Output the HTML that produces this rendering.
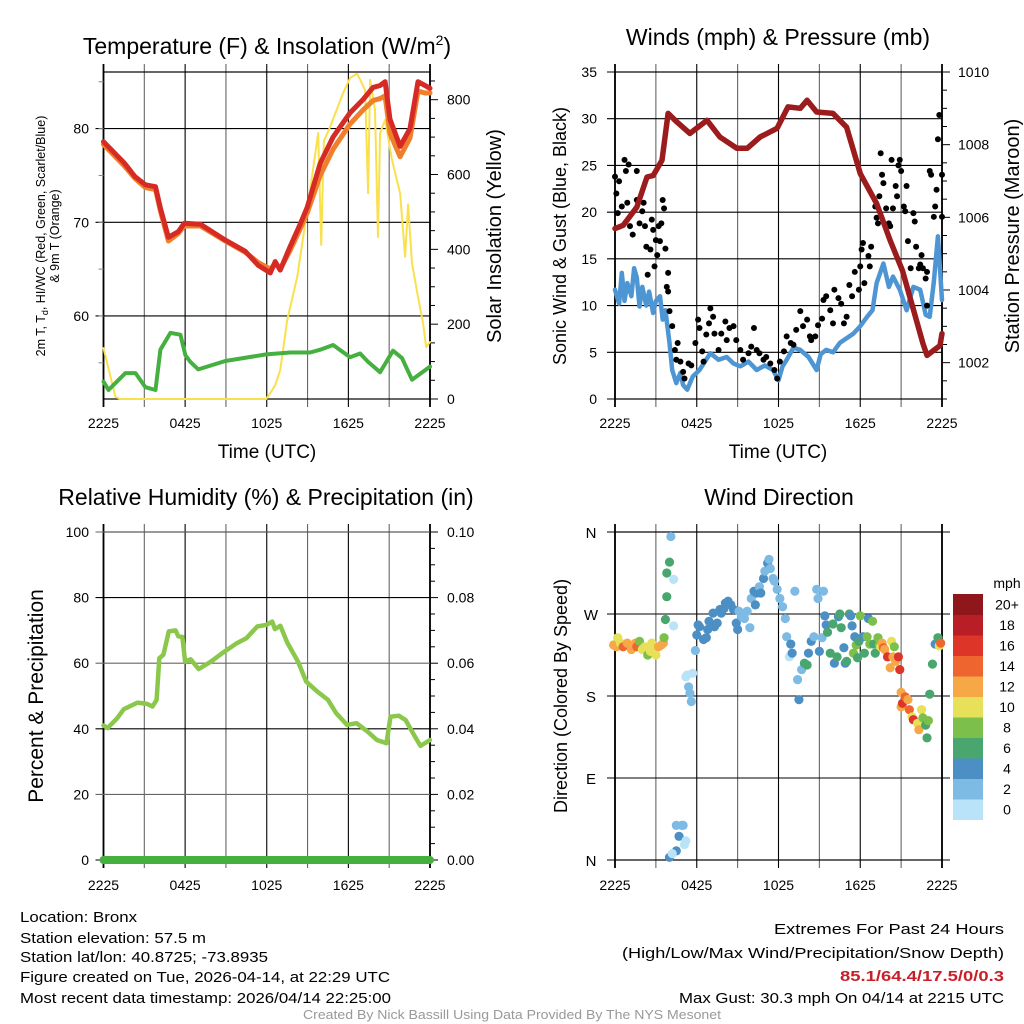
<!DOCTYPE html>
<html><head><meta charset="utf-8"><title>Mesonet Station Meteogram</title>
<style>
html,body{margin:0;padding:0;background:#fff;}
svg{display:block;font-family:"Liberation Sans",Arial,sans-serif;}
</style></head>
<body>
<svg id="chart" width="1024" height="1024" viewBox="0 0 1024 1024" xmlns="http://www.w3.org/2000/svg">
<rect x="0" y="0" width="1024" height="1024" fill="#fff"/>
<g id="layer"></g>
<!-- titles -->
<text x="267" y="54" font-size="23" text-anchor="middle">Temperature (F) &amp; Insolation (W/m<tspan font-size="14" dy="-9">2</tspan><tspan dy="9">)</tspan></text>
<text x="778" y="45" font-size="23" text-anchor="middle">Winds (mph) &amp; Pressure (mb)</text>
<text x="266" y="505" font-size="23" text-anchor="middle">Relative Humidity (%) &amp; Precipitation (in)</text>
<text x="779" y="505" font-size="23" text-anchor="middle">Wind Direction</text>
<!-- axis titles -->
<text transform="translate(45,236) rotate(-90)" font-size="12.5" text-anchor="middle">2m T, T<tspan font-size="9" dy="3">d</tspan><tspan dy="-3">, HI/WC (Red, Green, Scarlet/Blue)</tspan></text>
<text transform="translate(59,236) rotate(-90)" font-size="12.5" text-anchor="middle">&amp; 9m T (Orange)</text>
<text transform="translate(501,236) rotate(-90)" font-size="20" text-anchor="middle">Solar Insolation (Yellow)</text>
<text transform="translate(566,236) rotate(-90)" font-size="18" text-anchor="middle">Sonic Wind &amp; Gust (Blue, Black)</text>
<text transform="translate(1019,236) rotate(-90)" font-size="20" text-anchor="middle">Station Pressure (Maroon)</text>
<text transform="translate(43,696) rotate(-90)" font-size="21" text-anchor="middle">Percent &amp; Precipitation</text>
<text transform="translate(567,696) rotate(-90)" font-size="18" text-anchor="middle">Direction (Colored By Speed)</text>
<text x="267" y="458" font-size="19" text-anchor="middle">Time (UTC)</text>
<text x="778" y="458" font-size="19" text-anchor="middle">Time (UTC)</text>
<!-- footer -->
<g font-size="15" fill="#000">
<text x="20" y="922" textLength="117" lengthAdjust="spacingAndGlyphs">Location: Bronx</text>
<text x="20" y="943" textLength="186" lengthAdjust="spacingAndGlyphs">Station elevation: 57.5 m</text>
<text x="20" y="962" textLength="248" lengthAdjust="spacingAndGlyphs">Station lat/lon: 40.8725; -73.8935</text>
<text x="20" y="982" textLength="370" lengthAdjust="spacingAndGlyphs">Figure created on Tue, 2026-04-14, at 22:29 UTC</text>
<text x="20" y="1003" textLength="371" lengthAdjust="spacingAndGlyphs">Most recent data timestamp: 2026/04/14 22:25:00</text>
</g>
<g font-size="15" fill="#000">
<text x="774" y="934" textLength="230" lengthAdjust="spacingAndGlyphs">Extremes For Past 24 Hours</text>
<text x="622" y="958" textLength="382" lengthAdjust="spacingAndGlyphs">(High/Low/Max Wind/Precipitation/Snow Depth)</text>
<text x="840" y="981" textLength="164" lengthAdjust="spacingAndGlyphs" fill="#c8202a" font-weight="bold">85.1/64.4/17.5/0/0.3</text>
<text x="679" y="1003" textLength="325" lengthAdjust="spacingAndGlyphs">Max Gust: 30.3 mph On 04/14 at 2215 UTC</text>
</g>
<text x="303" y="1019" font-size="12.5" fill="#999" textLength="418" lengthAdjust="spacingAndGlyphs">Created By Nick Bassill Using Data Provided By The NYS Mesonet</text>
</svg>
<script>
// ---------- DATA ----------
const xTickLabels = ["2225","0425","1025","1625","2225"];
// Panel 1: temperature
const tempTime = [0,1.54,2.3,3.08,3.82,4.18,4.77,5.5,5.94,7.12,8.95,10.42,11.38,12.26,12.62,12.99,13.72,14.46,14.97,15.93,16.88,18.13,19.08,19.82,20.33,20.7,21.06,21.8,22.53,23.12,23.63,24];
const temp2m = [78.6,76.3,74.9,74.0,73.8,71.5,68.4,69.0,69.9,69.8,68.1,66.9,65.4,64.6,65.8,64.9,67.4,69.8,71.6,76.3,79.1,81.7,83.1,84.4,84.6,85.0,81.0,78.1,80.0,85.0,84.6,84.3];
const temp9m = [78.3,76.0,74.7,73.7,73.5,71.2,68.0,68.8,69.6,69.6,68.0,66.8,65.7,65.0,65.6,65.0,67.0,69.3,71.0,75.0,77.8,80.5,82.0,83.0,83.2,83.5,79.5,77.0,79.0,84.0,83.8,83.8];
const dewTime = [0,0.37,1.61,2.35,3.08,3.82,4.18,4.92,5.65,6.02,6.39,6.97,8.95,11.96,13.72,15.19,15.93,16.88,18.13,18.86,19.45,20.33,21.28,21.94,22.68,24];
const dewpoint = [53.0,52.1,53.9,53.9,52.4,52.1,56.4,58.2,58.0,55.8,55.1,54.3,55.2,55.9,56.1,56.1,56.4,56.9,55.6,56.0,55.1,54.0,56.3,55.5,53.2,54.6];
const solTime = [0,0.88,1.25,11.96,12.26,12.62,12.99,13.5,14.24,14.97,15.78,16.0,16.2,16.66,17.61,18.13,18.64,19.23,19.45,19.6,19.96,20.18,20.33,20.7,21.21,21.8,22.17,22.39,22.68,23.12,23.49,23.71,24];
const solar = [136,5,0,0,16,37,77,211,326,505,711,412,690,727,818,858,870,826,550,853,773,433,711,746,639,550,380,520,363,273,203,139,152];
const tempTicks = [60,70,80];
const solarTicks = [0,200,400,600,800];
// Panel 2: wind & pressure
const windTime = [0,0.3,0.5,0.7,0.9,1.2,1.4,1.6,1.8,2.0,2.3,2.5,2.8,3.0,3.3,3.5,3.7,4.0,4.2,4.5,4.8,5.0,5.3,5.7,6.2,6.6,7.0,7.6,8.2,8.7,9.2,9.8,10.4,11.0,11.6,12.0,12.3,12.6,13.1,13.6,14.2,14.8,15.1,15.5,16.0,16.5,17.0,17.5,18.0,18.5,18.9,19.2,19.7,20.1,20.4,20.9,21.4,21.9,22.4,22.8,23.1,23.4,23.7,24];
const windSpeed = [11.7,10.2,13.5,10.5,12.4,11.0,14.0,13.0,9.9,12.0,10.0,11.5,9.2,10.5,11.0,8.5,9.5,6.0,3.1,1.7,2.8,1.5,1.0,2.4,3.1,4.0,4.9,4.2,4.5,3.8,3.5,4.0,3.1,3.6,3.1,2.0,3.5,4.2,5.5,5.25,4.5,3.1,4.8,5.25,5.0,6.0,6.5,7.0,7.8,8.8,9.5,12.4,14.5,12.0,13.1,11.7,9.5,12.0,11.7,9.0,8.8,12.5,17.4,10.6];
const gustTime = [0.0,0.1,0.2,0.3,0.5,0.7,0.8,1.0,0.9,1.1,1.3,1.6,1.6,1.8,2.0,2.1,2.2,2.3,2.4,2.6,2.7,2.8,2.9,3.0,3.1,3.2,3.3,3.4,3.5,3.6,3.7,3.8,3.9,3.9,4.0,4.2,4.4,4.5,4.6,4.8,5.0,5.1,5.4,5.6,5.9,6.1,6.2,6.4,6.5,6.7,6.9,7.0,7.2,7.3,7.6,7.8,8.1,8.2,8.4,8.7,8.9,9.2,9.4,9.8,10.0,10.2,10.4,10.6,10.9,11.1,11.4,11.7,11.9,12.1,12.4,12.6,12.9,13.1,13.3,13.6,13.8,14.1,14.3,14.4,14.7,14.9,15.2,15.3,15.5,15.8,16.0,16.1,16.4,16.6,16.8,17.0,17.2,17.4,17.6,17.9,18.0,18.1,18.2,18.3,18.6,18.7,18.8,19.1,19.2,19.3,19.4,19.5,19.6,19.7,19.9,20.1,20.2,20.3,20.4,20.6,20.7,20.8,20.9,21.0,21.2,21.3,21.4,21.5,21.7,21.9,22.0,22.1,22.3,22.4,22.5,22.6,22.8,22.9,22.9,23.1,23.2,23.4,23.5,23.6,23.7,23.8,24.0,24.0];
const gustSpeed = [23.8,22,19.9,23.3,20.6,25.6,24.4,25.1,21,18.5,17.6,24.4,21.3,18.8,20.1,21,18.5,16.3,13.3,16,19.2,18.1,14.2,17,15.4,18.5,16.9,18.8,21.3,20.4,16.1,12,11.5,13.5,9.4,7.8,5.25,4.2,6,4,2.9,2.2,3.8,3.6,6,8.5,7.6,5.1,4,6.9,8.1,9.7,8.8,7,5.25,7,8.3,6.3,7.6,7.8,6.3,5.25,4.2,4.9,5.6,7.6,5.25,4.9,4.2,4.5,3.8,3.1,2.2,4,5.1,6.7,6,5.8,7.4,9.4,7.8,8.5,6.7,6.3,6.7,7.9,8.6,10.6,11,9.5,8.1,11.7,10.8,10.2,8.1,8.8,12.2,11,13.6,11.7,14.2,16,16.7,12.4,15.3,14.2,16.3,20.6,19.4,18.8,21.7,26.3,24,23.1,20.4,18.8,18.5,25.6,20.4,22.8,21.7,25,25.6,24.4,20.6,20.1,22.8,16.9,14,19.9,19,16.3,14,14.4,15.4,14,12.9,13.6,10,24.4,24,19.5,20.6,22.4,27.8,30.4,24,19.5];
const presTime = [0,0.6,1.6,2.35,2.8,3.45,3.9,4.55,5.5,6.75,7.7,8.95,9.7,10.65,11.9,12.7,13.6,14.1,14.8,16.0,17.0,18.0,19.2,20.2,21.1,22.6,22.9,23.85,24];
const pressure = [1005.69,1005.78,1006.28,1007.11,1007.15,1007.57,1008.86,1008.62,1008.31,1008.67,1008.21,1007.9,1007.9,1008.21,1008.45,1009.04,1009.0,1009.22,1008.9,1008.86,1008.48,1007.2,1006.38,1005.36,1004.53,1002.53,1002.2,1002.47,1002.8];
const windTicks = [0,5,10,15,20,25,30,35];
const presTicks = [1002,1004,1006,1008,1010];
// Panel 3: RH & precip
const rhTime = [0,0.3,1.0,1.5,2.5,3.2,3.6,3.9,4.1,4.4,4.8,5.3,5.5,5.8,6.0,6.4,7.0,7.9,8.7,9.8,10.5,11.3,12.0,12.4,12.6,13.0,13.5,14.3,14.9,15.7,16.5,17.1,17.9,18.6,19.4,20.1,20.8,21.1,21.7,22.2,22.9,23.3,24];
const rh = [41,40.2,43.2,46,48,47.6,46.8,48.8,61.5,62.6,69.7,70,68.2,68,60.5,61.2,58.2,60.5,63,66.1,67.6,71.2,71.7,72.7,70.4,71.4,66.3,60.5,54.4,51.4,48.8,44.8,41.2,41.7,39.2,36.6,35.6,43.7,44,42.7,37.6,34.8,36.6];
const precipTime = [0,2,4,6,8,10,12,14,16,18,20,22,24];
const precip = [0,0,0,0,0,0,0,0,0,0,0,0,0];
const rhTicks = [0,20,40,60,80,100];
const precipTicks = ["0.00","0.02","0.04","0.06","0.08","0.10"];
// Panel 4: wind direction
const dirTime = [-0.1,0.1,0.2,0.4,0.6,0.9,1.2,1.5,1.6,1.8,2.0,2.2,2.4,2.6,2.7,2.8,3.0,3.2,3.4,3.55,3.6,3.7,3.8,3.8,4.0,4.1,4.3,4.3,4.5,4.0,4.2,4.5,4.7,4.9,5.0,5.1,5.2,5.2,5.3,5.4,5.5,5.6,5.7,5.9,6.0,6.1,6.2,6.5,6.7,6.8,6.9,7.2,7.3,7.5,7.7,7.8,8.0,8.1,8.3,8.5,8.7,8.9,9.0,9.1,9.3,9.5,9.7,9.9,10.0,10.2,10.3,10.4,10.6,10.7,10.9,11.0,11.2,11.3,11.4,11.6,11.7,11.9,12.1,12.3,12.5,12.6,12.8,12.9,13.0,13.2,13.4,13.5,13.7,13.9,14.1,14.2,14.4,14.6,14.8,14.9,15.0,15.2,15.3,15.4,15.5,15.6,15.8,16.0,16.1,16.3,16.4,16.5,16.6,16.8,16.9,17.0,17.2,17.3,17.4,17.5,17.6,17.7,17.8,17.9,18.0,18.2,18.3,18.5,18.6,18.7,18.9,19.0,19.1,19.3,19.4,19.5,19.6,19.7,19.8,20.0,20.2,20.3,20.4,20.5,20.6,20.8,20.9,21.0,21.0,21.1,21.3,21.5,21.6,21.8,21.9,22.2,22.3,22.5,22.6,22.8,22.9,23.0,23.1,23.3,23.5,23.7,23.8,23.9];
const dirDeg = [236,234,244,238,234,238,231,238,234,240,231,234,225,229,238,231,225,234,236,238,244,264,289,315,327,355,308,257,10,3,7,38,26,38,38,17,21,201,203,190,183,174,205,230,247,258,256,242,244,253,262,271,256,260,275,271,276,282,284,280,275,260,253,273,267,265,273,255,287,295,280,293,300,293,309,317,326,330,320,309,306,297,287,278,265,245,223,237,227,295,198,176,209,216,214,227,240,245,297,287,229,244,295,268,258,250,227,259,216,223,267,270,255,233,216,218,270,268,257,227,245,236,222,240,268,245,227,245,265,237,262,237,227,244,236,234,238,233,231,223,211,240,223,234,218,223,209,184,168,172,179,176,165,157,154,150,143,165,156,148,134,153,182,215,237,244,235,238];
const dirSpeed = [13,12,10,11,14,12,13,12,14,8,10,11,8,10,11,10,10,12,12,13,8,6,6,6,6,2,0,0,4,4,0,2,4,2,2,0,0,0,0,2,2,2,0,2,4,4,4,4,4,4,4,4,4,4,4,4,4,4,4,4,4,4,4,2,2,2,2,2,2,4,4,4,2,4,4,2,4,2,2,2,2,2,2,2,2,2,0,4,4,2,2,4,2,6,6,4,4,2,2,2,4,2,2,4,4,6,6,6,4,6,4,6,6,4,4,6,6,4,4,8,4,8,6,6,8,4,6,8,4,8,8,6,6,8,8,10,12,14,12,16,12,10,12,8,12,16,16,12,12,16,14,12,14,10,16,10,12,10,8,6,6,8,6,6,4,6,10,14,10,20,14,12,8];
const dirTicks = ["N","E","S","W","N"];
const speedBins = ["0","2","4","6","8","10","12","14","16","18","20+"];
const speedColors = ["#b9e3f8","#7ebbe4","#4b8fc5","#4aa66f","#7cbf4b","#e6e159","#f6a847","#ef6530","#dd3528","#b91d26","#8f161a"];

// ---------- RENDER ----------
const NS = "http://www.w3.org/2000/svg";
const layer = document.getElementById('layer');
function mk(tag, parent){ const e = document.createElementNS(NS, tag); parent.appendChild(e); return e; }

const X0L = 103.5, X1L = 430, X0R = 615, X1R = 942;
function xs(x0,x1){ return h => x0 + (x1-x0)*h/24; }
function ys(y0,y1,v0,v1){ return v => y0 - (y0-y1)*(v-v0)/(v1-v0); }

const xL = xs(X0L,X1L), xR = xs(X0R,X1R);
const yTemp = ys(399,72,51.14,86.04);
const ySol = ys(399,72,0,874);
const yWind = ys(399,72,0,35);
const yPres = ys(399,72,1001,1010);
const yRH = ys(860,532,0,100);
const yPre = ys(860,532,0,0.1);
const yDir = ys(860,532,0,360);

function frame(x0,x1,y0,y1,name){
  const g = mk('g', layer);
  
  
  // vertical grid (every 3h) with ticks beyond
  for(let i=0;i<=8;i++){
    const x = x0 + (x1-x0)*i/8;
    const l = mk('line', g);
    
    
    l.setAttribute('x1',x); l.setAttribute('x2',x); l.setAttribute('y1',y1-8); l.setAttribute('y2',y0+8);
    l.setAttribute('stroke', i%2===0 ? '#000' : '#666'); l.setAttribute('stroke-width', i===0||i===8?1.8:1.1);
  }
  const r = mk('rect', g);
  
  
  r.setAttribute('x',x0); r.setAttribute('y',y1); r.setAttribute('width',x1-x0); r.setAttribute('height',y0-y1);
  r.setAttribute('fill','none'); r.setAttribute('stroke','#000'); r.setAttribute('stroke-width','1.2');
  return g;
}
function hgrid(g,x0,x1,y,color){
  const l = mk('line', g);
  
  
  l.setAttribute('x1',x0-8); l.setAttribute('x2',x1); l.setAttribute('y1',y); l.setAttribute('y2',y);
  l.setAttribute('stroke',color||'#000'); l.setAttribute('stroke-width','1.1');
}
function rtick(g,x,y,len){
  const l = mk('line', g);
  
  
  l.setAttribute('x1',x); l.setAttribute('x2',x+len); l.setAttribute('y1',y); l.setAttribute('y2',y);
  l.setAttribute('stroke','#000'); l.setAttribute('stroke-width','1');
}
function label(g,x,y,txt,anchor,size){
  const t = mk('text', g);
  
  
  t.setAttribute('x',x); t.setAttribute('y',y); t.setAttribute('font-size',size||14);
  t.setAttribute('text-anchor',anchor); t.textContent = txt;
}
function xlabels(g,x0,x1,y){
  xTickLabels.forEach((s,i)=>{ label(g, x0+(x1-x0)*i/4, y, s, 'middle', 14); });
}
function line(g,ts,vs,xf,yf,color,w,name){
  const p = mk('polyline', g);
  
  
  p.setAttribute('points', ts.map((t,i)=>xf(t).toFixed(1)+','+yf(vs[i]).toFixed(1)).join(' '));
  p.setAttribute('fill','none'); p.setAttribute('stroke',color); p.setAttribute('stroke-width',w);
  p.setAttribute('stroke-linejoin','round'); p.setAttribute('stroke-linecap','round');
}

// Panel 1
const g1 = frame(X0L,X1L,399,72,'temperature-panel');
tempTicks.forEach(v=>{ hgrid(g1,X0L,X1L,yTemp(v)); label(g1,89,yTemp(v)+5,String(v),'end',14); });
for(let v=55; v<=85; v+=5){ const l=mk('line',g1);   l.setAttribute('x1',X0L-5); l.setAttribute('x2',X0L); l.setAttribute('y1',yTemp(v)); l.setAttribute('y2',yTemp(v)); l.setAttribute('stroke','#888'); }
for(let v=0; v<=850; v+=50){ rtick(g1,X1L,ySol(v), v%200===0?8:5); }
solarTicks.forEach(v=>label(g1,447,ySol(v)+5,String(v),'start',14));
xlabels(g1,X0L,X1L,428);
line(g1,solTime,solar,xL,ySol,'#f9e04d',2,'solar-insolation-line');
line(g1,dewTime,dewpoint,xL,yTemp,'#45b040',4,'dewpoint-line');
line(g1,tempTime,temp9m,xL,yTemp,'#f07f2b',5,'temp-9m-line');
line(g1,tempTime,temp2m,xL,yTemp,'#d62a24',5,'temp-2m-line');

// Panel 2
const g2 = frame(X0R,X1R,399,72,'wind-panel');
windTicks.forEach(v=>{ hgrid(g2,X0R,X1R,yWind(v)); label(g2,597,yWind(v)+5,String(v),'end',14); });
for(let v=1001; v<=1010; v+=0.5){ rtick(g2,X1R,yPres(v), Number.isInteger(v)&&v%2===0?8:5); }
presTicks.forEach(v=>label(g2,958,yPres(v)+5,String(v),'start',14));
xlabels(g2,X0R,X1R,428);
line(g2,windTime,windSpeed,xR,yWind,'#4e96d3',4.5,'wind-speed-line');
gustTime.forEach((t,i)=>{
  const c = mk('circle', g2);
  
  
  c.setAttribute('cx',xR(t)); c.setAttribute('cy',yWind(gustSpeed[i])); c.setAttribute('r',3); c.setAttribute('fill','#000');
});
line(g2,presTime,pressure,xR,yPres,'#9c1b1c',5.5,'pressure-line');

// Panel 3
const g3 = frame(X0L,X1L,860,532,'humidity-panel');
rhTicks.forEach((v,i)=>{ hgrid(g3,X0L,X1L,yRH(v), i%2===0?'#000':'#666'); label(g3,89,yRH(v)+5,String(v),'end',14); label(g3,447,yRH(v)+5,precipTicks[i],'start',14); });
for(let v=0; v<=100; v+=5){ rtick(g3,X1L,yRH(v), v%20===0?8:5); }
xlabels(g3,X0L,X1L,890);
line(g3,rhTime,rh,xL,yRH,'#8bc74b',4.5,'rh-line');
line(g3,precipTime,precip,xL,yPre,'#45b040',8,'precip-line');

// Panel 4
const g4 = frame(X0R,X1R,860,532,'direction-panel');
dirTicks.forEach((s,i)=>{ const v=i*90; const l=mk('line',g4);   l.setAttribute('x1',X0R-8); l.setAttribute('x2',X1R+8); l.setAttribute('y1',yDir(v)); l.setAttribute('y2',yDir(v)); l.setAttribute('stroke','#000'); l.setAttribute('stroke-width','1.1'); label(g4,591,yDir(v)+6,s,'middle',15); });
xlabels(g4,X0R,X1R,890);
dirTime.forEach((t,i)=>{
  const c = mk('circle', g4);
  
  
  const bin = Math.min(10, Math.floor(dirSpeed[i]/2));
  c.setAttribute('cx',xR(t)); c.setAttribute('cy',yDir(dirDeg[i])); c.setAttribute('r',4.6); c.setAttribute('fill',speedColors[bin]);
});
// colorbar
const cb = mk('g', layer);


const cbTop = 594, cbH = 20.5;
speedBins.forEach((s,i)=>{
  const r = mk('rect', cb);
  
  
  const y = cbTop + (10-i)*cbH;
  r.setAttribute('x',953); r.setAttribute('y',y); r.setAttribute('width',30); r.setAttribute('height',cbH+0.5); r.setAttribute('fill',speedColors[i]);
  label(cb,1007,y+cbH/2+5,s,'middle',14);
});
label(cb,1007,588,'mph','middle',14);
</script>
</body></html>
